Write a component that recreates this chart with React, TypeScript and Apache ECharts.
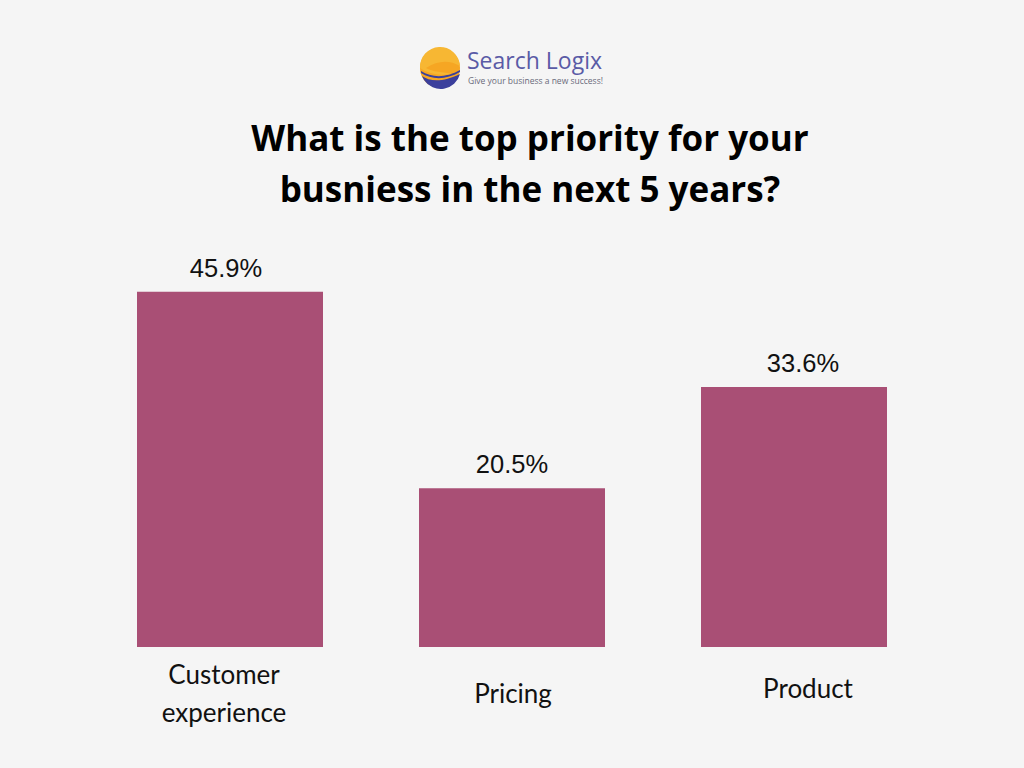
import React, { useEffect, useRef } from "react";
import * as echarts from "echarts";

const categories = ["Customer\nexperience", "Pricing", "Product"];
const values = [45.9, 20.5, 33.6];
const titleText = "What is the top priority for your\nbusniess in the next 5 years?";

echarts.graphic.registerShape(
  "logoTop",
  echarts.graphic.extendPath(
    "M0,20 A20,20 0 0 1 40,18 C30,12 18,12 6,20 C12,24 24,24 32,26 C20,28 8,26 0,20 Z",
    {}
  )
);
echarts.graphic.registerShape(
  "logoBottom",
  echarts.graphic.extendPath(
    "M2,28 C10,34 24,34 40,26 A20,20 0 0 1 4,32 Z M1,23 C12,30 26,30 40,22 L40,24 C26,32 12,32 1,25 Z",
    {}
  )
);

const labelPads = [
  [0, 12, 0, 0],
  [19, 0, 0, 2],
  [14, 0, 0, 28],
];
const valueLabelShift = [-4, 0, 9];

export default function App() {
  const ref = useRef<HTMLDivElement>(null);
  useEffect(() => {
    if (!ref.current) return;
    const chart = echarts.init(ref.current, undefined, { renderer: "svg" });
    chart.setOption({
      animation: false,
      backgroundColor: "#f5f5f5",
      title: {
        text: titleText,
        left: 525,
        textAlign: "center",
        top: 107,
        textStyle: {
          fontFamily: "Open Sans",
          fontWeight: 700,
          fontSize: 35,
          lineHeight: 51,
          color: "#000",
        },
      },
      graphic: [
        {
          type: "circle",
          shape: { cx: 440, cy: 68, r: 20 },
          style: { fill: "#f6a623" },
        },
        {
          type: "logoBottom",
          x: 420,
          y: 48,
          style: { fill: "#3b3f9c" },
        },
        {
          type: "logoTop",
          x: 420,
          y: 48,
          style: { fill: "#f7b733" },
        },
        {
          type: "text",
          x: 467,
          y: 48,
          style: {
            text: "Search Logix",
            fill: "#5a5ba6",
            fontFamily: "Open Sans",
            fontSize: 23,
          },
        },
        {
          type: "text",
          x: 468,
          y: 76,
          style: {
            text: "Give your business a new success!",
            fill: "#6a6a7a",
            fontFamily: "Open Sans",
            fontSize: 8.5,
          },
        },
      ],
      grid: { left: 89, right: 89, top: 260, bottom: 121 },
      xAxis: {
        type: "category",
        data: categories.map((c, i) => ({
          value: c,
          textStyle: { padding: labelPads[i] },
        })),
        axisLine: { show: false },
        axisTick: { show: false },
        axisLabel: {
          margin: 8,
          fontFamily: "Lato",
          fontSize: 26,
          lineHeight: 38,
          color: "#111",
        },
      },
      yAxis: {
        type: "value",
        min: 0,
        max: 50,
        show: false,
        splitLine: { show: false },
      },
      series: [
        {
          type: "bar",
          data: values.map((v, i) => ({
            value: v,
            label: { offset: [valueLabelShift[i], 0] },
          })),
          barWidth: 186,
          itemStyle: { color: "#a94f75" },
          label: {
            show: true,
            position: "top",
            distance: 11,
            formatter: "{c}%",
            fontFamily: "Liberation Sans",
            fontSize: 25.5,
            color: "#111",
          },
        },
      ],
    });
    return () => chart.dispose();
  }, []);
  return (
    <div
      ref={ref}
      style={{ width: 1024, height: 768, position: "fixed", left: 0, top: 0 }}
    />
  );
}
